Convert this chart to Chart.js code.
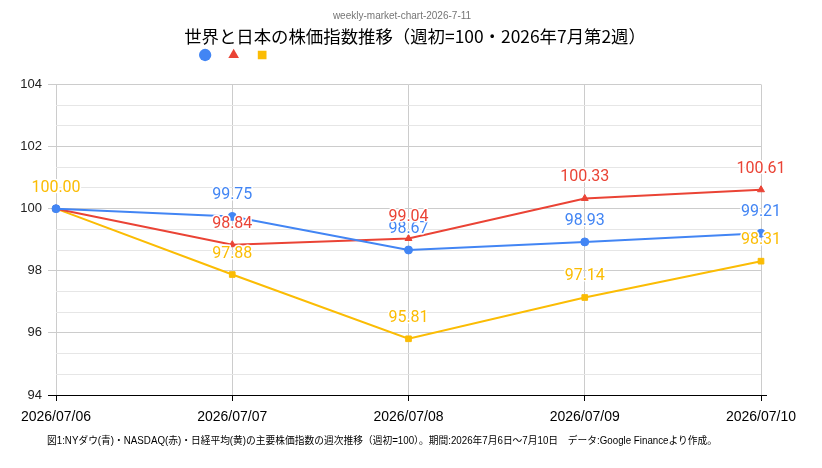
<!DOCTYPE html>
<html>
<head>
<meta charset="utf-8">
<script src="https://cdn.jsdelivr.net/npm/chart.js@4.4.1/dist/chart.umd.min.js"></script>
<style>
  html, body { margin: 0; padding: 0; background: #fff; }
  #wrap { position: relative; width: 822px; height: 468px; }
  #caption { position: absolute; left: 0; top: 434px; white-space: nowrap;
    font-family: "Liberation Sans", "Noto Sans CJK JP", sans-serif; font-size: 10px; line-height: 14px; color: #000;
    transform-origin: 0 0; }
</style>
</head>
<body>
<div id="wrap">
  <canvas id="c" width="822" height="468"></canvas>
  <div id="caption">図1:NYダウ(青)・NASDAQ(赤)・日経平均(黄)の主要株価指数の週次推移（週初=100）。期間:2026年7月6日～7月10日　データ:Google Financeより作成。</div>
</div>
<script>
const categories = ['2026/07/06', '2026/07/07', '2026/07/08', '2026/07/09', '2026/07/10'];
const dowValues = [100.00, 99.75, 98.67, 98.93, 99.21];
const nasdaqValues = [100.00, 98.84, 99.04, 100.33, 100.61];
const nikkeiValues = [100.00, 97.88, 95.81, 97.14, 98.31];
const seriesNames = ['', '', ''];
const yMin = 94, yMax = 104, yLabelStep = 2, yMinorDivisions = 3;

const BLUE = '#4285F4', RED = '#EA4335', YELLOW = '#FBBC04';
const TITLE_TEXT = '世界と日本の株価指数推移（週初=100・2026年7月第2週）';
const SUBTITLE_TEXT = 'weekly-market-chart-2026-7-11';

function isMajor(v) {
  const r = Math.round(v);
  return Math.abs(v - r) < 1e-6 && (r - yMin) % yLabelStep === 0;
}

const dataLabels = {
  id: 'dataLabels',
  afterDatasetsDraw(chart) {
    const ctx = chart.ctx;
    ctx.save();
    ctx.font = '16px Roboto';
    ctx.textAlign = 'center';
    ctx.textBaseline = 'alphabetic';
    ctx.lineJoin = 'round';
    chart.data.datasets.forEach((ds, i) => {
      const meta = chart.getDatasetMeta(i);
      meta.data.forEach((pt, j) => {
        const txt = ds.data[j].toFixed(2);
        const y = pt.y - 17;
        ctx.strokeStyle = '#fff';
        ctx.lineWidth = 3;
        ctx.strokeText(txt, pt.x, y);
        ctx.fillStyle = ds.borderColor;
        ctx.fillText(txt, pt.x, y);
      });
    });
    ctx.restore();
  }
};

const boxPlacer = {
  id: 'boxPlacer',
  afterLayout(chart) {
    chart.boxes.forEach(b => {
      if (b.options && b.options.text === TITLE_TEXT) { b.left = 0; b.right = 830; b.width = 830; }
      if (b.options && b.options.text === SUBTITLE_TEXT) { b.left = 0; b.right = 804; b.width = 804; }
    });
    const lg = chart.legend;
    if (!lg) return;
    const dy = 35.2 - lg.top;
    lg.top += dy; lg.bottom += dy;
    lg.left = 187;
  }
};

const axisExt = {
  id: 'axisExt',
  afterDraw(chart) {
    const a = chart.chartArea, ctx = chart.ctx;
    ctx.save();
    ctx.strokeStyle = '#000';
    ctx.lineWidth = 1;
    ctx.beginPath();
    ctx.moveTo(a.right, Math.round(a.bottom) + 0.5);
    ctx.lineTo(a.right + 6, Math.round(a.bottom) + 0.5);
    ctx.stroke();
    ctx.restore();
  }
};

function ds(label, data, color, style) {
  return {
    label, data,
    borderColor: color, backgroundColor: color,
    pointBackgroundColor: color, pointBorderColor: color,
    pointStyle: style, pointRadius: 4, pointBorderWidth: 1,
    borderWidth: 2, tension: 0, fill: false
  };
}

new Chart(document.getElementById('c'), {
  type: 'line',
  data: {
    labels: categories,
    datasets: [
      ds(seriesNames[0], dowValues, BLUE, 'circle'),
      ds(seriesNames[1], nasdaqValues, RED, 'triangle'),
      ds(seriesNames[2], nikkeiValues, YELLOW, 'rect')
    ]
  },
  options: {
    responsive: false,
    animation: false,
    layout: { padding: { left: 0, right: 61, top: 0, bottom: 43 } },
    plugins: {
      tooltip: { enabled: false },
      subtitle: {
        display: true, text: SUBTITLE_TEXT, color: '#757575',
        font: { family: 'Liberation Sans', size: 10 }, padding: { top: 10, bottom: 4 }, weight: 2500
      },
      title: {
        display: true, text: TITLE_TEXT, color: '#000',
        font: { family: 'Noto Sans CJK JP', size: 17.4, weight: 'normal' }, padding: { top: 0, bottom: 1.8 }
      },
      legend: {
        display: true, position: 'top', align: 'start',
        labels: {
          usePointStyle: true, boxWidth: 8.7, boxHeight: 8.7, padding: 13.8,
          font: { size: 12 },
          generateLabels(chart) {
            const items = Chart.defaults.plugins.legend.labels.generateLabels(chart);
            items.forEach(it => { it.lineWidth = 0; });
            return items;
          }
        }
      }
    },
    scales: {
      x: {
        type: 'category', offset: false,
        grid: { color: '#cccccc', tickColor: '#000', tickLength: 6, drawTicks: true },
        border: { display: true, color: '#000', width: 1 },
        ticks: { color: '#000', font: { family: 'Liberation Sans', size: 14 }, padding: 8, maxRotation: 0, autoSkip: false },
        afterFit(s) { s.height = 30; }
      },
      y: {
        min: yMin, max: yMax,
        afterBuildTicks(s) {
          const t = [];
          const n = (yMax - yMin) / yLabelStep * yMinorDivisions;
          for (let k = 0; k <= n; k++) t.push({ value: yMin + k * yLabelStep / yMinorDivisions });
          s.ticks = t;
        },
        grid: {
          color: c => (c.tick && isMajor(c.tick.value)) ? '#cccccc' : '#e6e6e6',
          tickColor: c => (c.tick && isMajor(c.tick.value)) ? (Math.abs(c.tick.value - yMin) < 1e-6 ? '#000' : '#cccccc') : 'rgba(0,0,0,0)',
          tickLength: 8
        },
        border: { display: false },
        ticks: {
          autoSkip: false, padding: 6, color: '#222',
          font: { family: 'Liberation Sans', size: 13 },
          callback: v => isMajor(v) ? String(Math.round(v)) : ''
        },
        afterFit(s) { s.width = 56; }
      }
    }
  },
  plugins: [dataLabels, boxPlacer, axisExt]
});

const cap = document.getElementById('caption');
const w = cap.getBoundingClientRect().width;
const targetW = 670;
cap.style.transform = 'scaleX(' + (targetW / w) + ')';
cap.style.left = '47px';
</script>
</body>
</html>
